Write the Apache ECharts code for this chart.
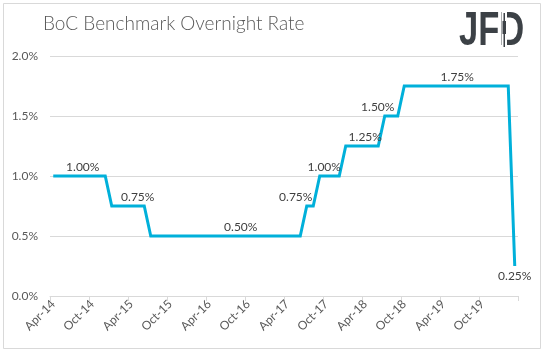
<!DOCTYPE html>
<html>
<head>
<meta charset="utf-8">
<script src="https://cdn.jsdelivr.net/npm/echarts@6/dist/echarts.min.js"></script>
<style>
html,body{margin:0;padding:0;background:#fff;}
#c{width:544px;height:353px;}
</style>
</head>
<body>
<div id="c"></div>
<script>
var titleText = 'BoC Benchmark Overnight Rate';
var months = [
 'Apr-14','May-14','Jun-14','Jul-14','Aug-14','Sep-14','Oct-14','Nov-14','Dec-14',
 'Jan-15','Feb-15','Mar-15','Apr-15','May-15','Jun-15','Jul-15','Aug-15','Sep-15','Oct-15','Nov-15','Dec-15',
 'Jan-16','Feb-16','Mar-16','Apr-16','May-16','Jun-16','Jul-16','Aug-16','Sep-16','Oct-16','Nov-16','Dec-16',
 'Jan-17','Feb-17','Mar-17','Apr-17','May-17','Jun-17','Jul-17','Aug-17','Sep-17','Oct-17','Nov-17','Dec-17',
 'Jan-18','Feb-18','Mar-18','Apr-18','May-18','Jun-18','Jul-18','Aug-18','Sep-18','Oct-18','Nov-18','Dec-18',
 'Jan-19','Feb-19','Mar-19','Apr-19','May-19','Jun-19','Jul-19','Aug-19','Sep-19','Oct-19','Nov-19','Dec-19',
 'Jan-20','Feb-20','Mar-20'
];
var rates = [
 1.00,1.00,1.00,1.00,1.00,1.00,1.00,1.00,1.00,
 0.75,0.75,0.75,0.75,0.75,0.75,0.50,0.50,0.50,0.50,0.50,0.50,
 0.50,0.50,0.50,0.50,0.50,0.50,0.50,0.50,0.50,0.50,0.50,0.50,
 0.50,0.50,0.50,0.50,0.50,0.50,0.75,0.75,1.00,1.00,1.00,1.00,
 1.25,1.25,1.25,1.25,1.25,1.25,1.50,1.50,1.50,1.75,1.75,1.75,
 1.75,1.75,1.75,1.75,1.75,1.75,1.75,1.75,1.75,1.75,1.75,1.75,
 1.75,1.75,0.25
];
var labelMonths = ['Sep-14','May-15','Sep-16','Jul-17','Oct-17','Apr-18','Jul-18','Jun-19','Mar-20'];
var yTicks = [0, 0.5, 1.0, 1.5, 2.0];

var labelOffsets = {
 'Sep-14':[-3,0],'May-15':[0,0],'Sep-16':[-1,0],'Jul-17':[-11,0],'Oct-17':[-2,0],
 'Apr-18':[0,0],'Jul-18':[-7,0],'Jun-19':[1,0],'Mar-20':[0,0]
};

var seriesData = rates.map(function(v, i){
  var m = months[i];
  if (labelMonths.indexOf(m) >= 0) {
    var bottom = (m === 'Mar-20');
    return {value: v, label: {show: true, position: bottom ? 'bottom' : 'top', distance: bottom ? 4 : 3, offset: labelOffsets[m]}};
  }
  return v;
});

var chart = echarts.init(document.getElementById('c'), null, {renderer:'canvas'});
chart.setOption({
  animation:false,
  backgroundColor:'#ffffff',
  textStyle:{fontFamily:'Lato'},
  grid:{left:50, right:26, top:56, bottom:57, containLabel:false},
  xAxis:{
    type:'category', data:months, boundaryGap:true,
    axisLine:{lineStyle:{color:'#d9d9d9', width:1}},
    axisTick:{show:true, interval:5, length:5, lineStyle:{color:'#d9d9d9'}},
    axisLabel:{interval:5, rotate:45, color:'#595959', fontSize:12, fontFamily:'Lato', margin:6}
  },
  yAxis:{
    type:'value', min:yTicks[0], max:yTicks[yTicks.length-1], interval:0.5,
    axisLine:{show:false}, axisTick:{show:false},
    splitLine:{lineStyle:{color:'#d9d9d9', width:1}},
    axisLabel:{color:'#595959', fontSize:12, fontFamily:'Lato', margin:12,
      formatter:function(v){return v.toFixed(1)+'%';}}
  },
  series:[{
    type:'line', data:seriesData, symbol:'circle', symbolSize:0, showSymbol:true,
    itemStyle:{color:'#00B0DA'},
    lineStyle:{color:'#00B0DA', width:3, join:'miter', cap:'butt'},
    label:{show:false, color:'#404040', fontSize:12, fontFamily:'Lato',
      formatter:function(p){return p.value.toFixed(2)+'%';}}
  }],
  graphic:[
    {type:'rect', shape:{x:3.5, y:3.5, width:537, height:345}, style:{fill:'none', stroke:'#d9d9d9', lineWidth:1}, silent:true, z:-1},
    {type:'text', left:43, top:14, style:{text:titleText, fill:'#595959', font:'300 19px Lato'}},
    {type:'text', x:459, y:8, scaleX:0.72, style:{text:'JFD', fill:'#3c4146', font:'bold 48px "Liberation Sans"'}},
    {type:'rect', shape:{x:502, y:10, width:5, height:40}, style:{fill:'#ffffff'}, z:200},
    {type:'rect', shape:{x:503.5, y:13, width:1.5, height:34}, style:{fill:'#3c4146'}, z:201},
    {type:'rect', shape:{x:502.5, y:21, width:3.5, height:13}, style:{fill:'#3c4146'}, z:201}
  ]
});
</script>
</body>
</html>
